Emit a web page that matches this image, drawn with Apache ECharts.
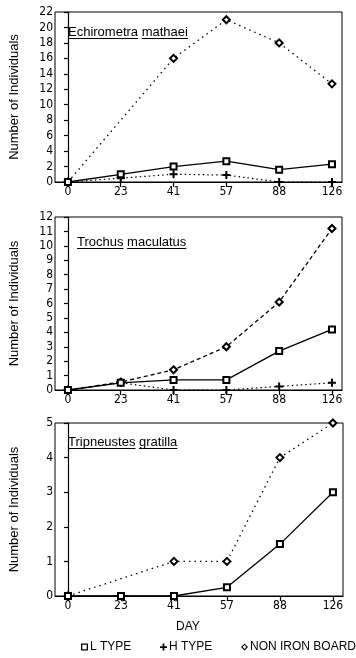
<!DOCTYPE html>
<html><head><meta charset="utf-8">
<script src="https://cdn.jsdelivr.net/npm/echarts@6/dist/echarts.min.js"></script>
<style>html,body{margin:0;padding:0;background:#fff}#c{width:356px;height:658px}</style>
</head><body><div id="c"></div>
<script>
const days = ['0','23','41','57','88','126'];
const xIdx = [0,1,2,3,4,5];
const speciesNames = ['Echirometra mathaei','Trochus maculatus','Tripneustes gratilla'];
const seriesNames = ['L TYPE','H TYPE','NON IRON BOARD'];
const yMax = [22,12,5];
const yStep = [2,1,1];
// Echirometra mathaei
const echL = [0,1,2,2.7,1.6,2.3];
const echH = [0,0.5,1,0.9,0,0];
const echN = [0,null,16,21,18,12.7];
// Trochus maculatus
const troL = [0,0.5,0.7,0.7,2.7,4.2];
const troH = [0,0.5,0,0,0.25,0.5];
const troN = [0,0.55,1.4,3.0,6.1,11.2];
// Tripneustes gratilla
const triL = [0,0,0,0.25,1.5,3];
const triH = [0,0,0,null,null,null];
const triN = [0,null,1,1,4,5];

const panels = [[echL,echH,echN],[troL,troH,troN],[triL,triH,triN]];
const gridPos = [{top:12,height:170,left:54,right:14},{top:217,height:173,left:54,right:14},{top:423,height:173,left:55,right:13}];
const titlePos = [{x:68,y:33},{x:77,y:243},{x:68,y:443}];
const nonDash = [[1.5,4],[4,3],[1.5,4]];

const plusPath = 'path://M3,0h2v8h-2z M0,3h8v2h-8z';
const sqPath = 'path://M0,0h8v8h-8z M1.5,1.5v5h5v-5z';
const diaPath = 'path://M4,0L8,4L4,8L0,4z M4,1.8L1.8,4L4,6.2L6.2,4z';

const tickFont = {fontFamily:'DejaVu Sans Condensed, Liberation Sans, Arial, sans-serif', fontSize:12, color:'#000'};

const grids=[], xAxes=[], yAxes=[], series=[];
panels.forEach((p,gi)=>{
  grids.push(Object.assign({show:true, borderColor:'#000', borderWidth:1, backgroundColor:'transparent'}, gridPos[gi]));
  xAxes.push({type:'value', gridIndex:gi, min:-0.245, max:5.19,
    axisLine:{show:true,onZero:false,lineStyle:{color:'#000',width:1.2}},
    axisTick:{show:true,length:5,customValues:xIdx,lineStyle:{color:'#000',width:1.2}},
    axisLabel:Object.assign({customValues:xIdx,margin:4,formatter:v=>days[Math.round(v)]},tickFont),
    splitLine:{show:false}});
  yAxes.push({type:'value', gridIndex:gi, min:0, max:yMax[gi], interval:yStep[gi],
    name:'Number of Individuals', nameLocation:'middle', nameGap:34,
    nameTextStyle:{fontFamily:'Liberation Sans, Arial, sans-serif', fontSize:13, color:'#000'},
    axisLine:{show:true,lineStyle:{color:'#000',width:1.2}},
    axisTick:{show:true,length:4,lineStyle:{color:'#000',width:1.2}},
    axisLabel:Object.assign({margin:2},tickFont),
    splitLine:{show:false}});
  const [L,H,N] = p;
  const mk = a => xIdx.map((x,i)=>[x,a[i]]);
  series.push({name:seriesNames[0], type:'line', xAxisIndex:gi, yAxisIndex:gi, data:mk(L),
    symbol:'emptyRect', symbolSize:6, connectNulls:true, z:3,
    lineStyle:{color:'#000',width:1.3,type:'solid'}, itemStyle:{color:'#000',borderWidth:1.2}});
  series.push({name:seriesNames[1], type:'line', xAxisIndex:gi, yAxisIndex:gi, data:mk(H),
    symbol:plusPath, symbolSize:8, connectNulls:true, z:2,
    lineStyle:{color:'#000',width:1.2,type:[1.5,3]}, itemStyle:{color:'#000'}});
  series.push({name:seriesNames[2], type:'line', xAxisIndex:gi, yAxisIndex:gi, data:mk(N),
    symbol:'emptyDiamond', symbolSize:7, connectNulls:true, z:2,
    lineStyle:{color:'#000',width:1.3,type:nonDash[gi]}, itemStyle:{color:'#000',borderWidth:1.1}});
});

// species titles: one text per word, each underlined
const titleFont = '13px "Liberation Sans", Arial, sans-serif';
function textWidth(s){
  try {
    const t = new echarts.graphic.Text({style:{text:s, font:titleFont}});
    const w = t.getBoundingRect().width;
    if (w > 0) return w;
  } catch(e) {}
  return s.length * 6.3;
}
const graphics = [];
speciesNames.forEach((nm,i)=>{
  const pos = titlePos[i];
  let x = pos.x;
  const sp = textWidth('a b') - textWidth('ab');
  nm.split(' ').forEach(w=>{
    const wd = textWidth(w);
    graphics.push({type:'text', x:x, y:pos.y-7, style:{text:w, font:titleFont, fill:'#000'}});
    graphics.push({type:'line', shape:{x1:x,y1:pos.y+5.5,x2:x+wd,y2:pos.y+5.5}, style:{stroke:'#000',lineWidth:1.1}});
    x += wd + sp;
  });
});
graphics.push({type:'text', left:176, top:621, style:{text:'DAY', font:'12px "Liberation Sans", Arial, sans-serif', fill:'#000'}});

const legendBase = {orient:'horizontal', top:636, itemWidth:7, itemHeight:7, itemGap:4,
  textStyle:{fontFamily:'Liberation Sans, Arial, sans-serif', fontSize:12, color:'#000', padding:[0,0,0,-3]}, selectedMode:false};
const legends = [
  Object.assign({}, legendBase, {left:76, data:[{name:seriesNames[0], icon:sqPath}]}),
  Object.assign({}, legendBase, {left:155, data:[{name:seriesNames[1], icon:plusPath}]}),
  Object.assign({}, legendBase, {left:236, data:[{name:seriesNames[2], icon:diaPath}]})
];

const chart = echarts.init(document.getElementById('c'), null, {renderer:'canvas'});
chart.setOption({animation:false, backgroundColor:'#fff', grid:grids, xAxis:xAxes, yAxis:yAxes,
  series:series, legend:legends, graphic:graphics});
</script></body></html>
